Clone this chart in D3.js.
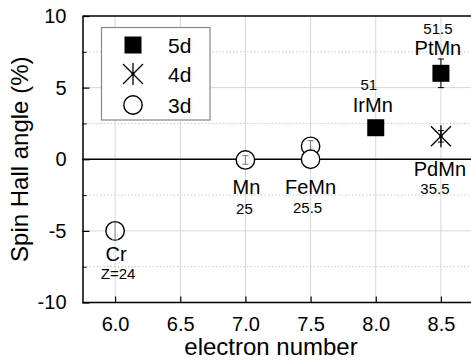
<!DOCTYPE html>
<html><head><meta charset="utf-8">
<script src="https://cdn.jsdelivr.net/npm/d3@7"></script>
<style>
html,body{margin:0;padding:0;background:#fff;}
text{font-family:"Liberation Sans",Arial,Helvetica,sans-serif;fill:#000;}
</style></head>
<body>
<svg id="c" width="471" height="360"></svg>
<script>
// ---- data ----
const xTicks = [6.0, 6.5, 7.0, 7.5, 8.0, 8.5];
const yTicks = [-10, -5, 0, 5, 10];
const yMinorTicks = [-7.5, -2.5, 2.5, 7.5];
const names = ["Cr", "Mn", "FeMn", "FeMn", "IrMn", "PtMn", "PdMn"];
const electrons = [6.0, 7.0, 7.5, 7.5, 8.0, 8.5, 8.5];
const angles = [-5.0, -0.05, 0.9, 0.0, 2.2, 6.0, 1.6];
const errors = [0.6, 0.3, 0.4, 0.0, 0.0, 1.0, 0.4];
const shells = ["3d", "3d", "3d", "3d", "5d", "5d", "4d"];
const labelNames = ["Cr", "Mn", "FeMn", "IrMn", "PtMn", "PdMn"];
const labelZ = ["Z=24", "25", "25.5", "51", "51.5", "35.5"];
const labelX = [6.0, 7.0, 7.5, 8.0, 8.5, 8.5];
const legendItems = ["5d", "4d", "3d"];

// ---- layout ----
const svg = d3.select("#c");
const x = d3.scaleLinear().domain([5.75, 8.75]).range([82.5, 473.5]);
const y = d3.scaleLinear().domain([-10, 10]).range([302.5, 16]);

// grid
const grid = svg.append("g");
grid.selectAll("line.vx").data(xTicks).join("line")
  .attr("x1", d => x(d)).attr("x2", d => x(d))
  .attr("y1", y(10)).attr("y2", y(-10))
  .attr("stroke", "#d6d6d6").attr("stroke-width", 1);
grid.selectAll("line.hy").data([-5, 5]).join("line")
  .attr("x1", x(5.75)).attr("x2", 471)
  .attr("y1", d => y(d)).attr("y2", d => y(d))
  .attr("stroke", "#d6d6d6").attr("stroke-width", 1);
grid.selectAll("line.hm").data(yMinorTicks).join("line")
  .attr("x1", x(5.75)).attr("x2", 471)
  .attr("y1", d => y(d)).attr("y2", d => y(d))
  .attr("stroke", "#c8c8c8").attr("stroke-width", 1).attr("stroke-dasharray", "1.5,2");

// zero line
svg.append("line").attr("x1", x(5.75)).attr("x2", 471)
  .attr("y1", y(0)).attr("y2", y(0)).attr("stroke", "#000").attr("stroke-width", 1.5);
// top border
svg.append("line").attr("x1", x(5.75)).attr("x2", 471)
  .attr("y1", y(10)).attr("y2", y(10)).attr("stroke", "#000").attr("stroke-width", 1.5);

// axes
const xAxis = d3.axisBottom(x).tickValues(xTicks).tickFormat(d3.format(".1f")).tickSizeInner(-6).tickSizeOuter(0).tickPadding(14);
const gx = svg.append("g").attr("transform", `translate(0,${y(-10)})`).call(xAxis);
const yAxis = d3.axisLeft(y).tickValues(yTicks).tickFormat(d => d).tickSizeInner(-7).tickSizeOuter(0).tickPadding(16);
const gy = svg.append("g").attr("transform", `translate(${x(5.75)},0)`).call(yAxis);
svg.append("g").attr("transform", `translate(${x(5.75)},0)`)
  .call(d3.axisLeft(y).tickValues(yMinorTicks).tickFormat("").tickSizeInner(-4).tickSizeOuter(0))
  .select(".domain").remove();
[gx, gy].forEach(g => {
  g.select(".domain").attr("stroke", "#000").attr("stroke-width", 1.5);
  g.selectAll(".tick line").attr("stroke", "#000").attr("stroke-width", 1.2);
  g.selectAll("text").style("font-size", "20px").style("font-family", '"Liberation Sans",Arial,sans-serif').attr("fill", "#000");
});
gx.select(".domain").attr("d", `M${x(5.75)},0H471`);

// axis titles
svg.append("text").attr("x", 271).attr("y", 355).attr("text-anchor", "middle")
  .style("font-size", "24px").text("electron number");
svg.append("text").attr("transform", `translate(28,${y(0)}) rotate(-90)`).attr("text-anchor", "middle")
  .style("font-size", "24px").text("Spin Hall angle (%)");

// marker drawers
function drawMarker(g, shell, cx, cy) {
  if (shell === "5d") {
    g.append("rect").attr("x", cx - 8.5).attr("y", cy - 8.5).attr("width", 17).attr("height", 17).attr("fill", "#000");
  } else if (shell === "4d") {
    const s = 10, v = 11;
    g.append("path").attr("d", `M${cx-s},${cy-s}L${cx+s},${cy+s}M${cx-s},${cy+s}L${cx+s},${cy-s}M${cx},${cy-v}L${cx},${cy+v}`)
      .attr("stroke", "#000").attr("stroke-width", 1.3).attr("fill", "none");
    g.append("circle").attr("cx", cx).attr("cy", cy).attr("r", 1.6).attr("fill", "#000");
  } else {
    g.append("circle").attr("cx", cx).attr("cy", cy).attr("r", 9.2)
      .attr("fill", "#fff").attr("stroke", "#000").attr("stroke-width", 1.4);
  }
}

// points
const pts = names.map((n, i) => ({n, xv: electrons[i], yv: angles[i], e: errors[i], s: shells[i]}));
const pg = svg.append("g");
pts.forEach(p => {
  const cx = x(p.xv), cy = y(p.yv);
  drawMarker(pg, p.s, cx, cy);
  if (p.e > 0) {
    const y1 = y(p.yv + p.e), y2 = y(p.yv - p.e);
    const col = p.s === "3d" ? "#777" : "#000";
    pg.append("path").attr("d", `M${cx},${y1}L${cx},${y2}M${cx-3},${y1}L${cx+3},${y1}M${cx-3},${y2}L${cx+3},${y2}`)
      .attr("stroke", col).attr("stroke-width", 1).attr("fill", "none");
  }
});

// labels
const labelLayout = [
  {nameDy: 30, zDy: 48, ref: -5},
  {nameDy: 35, zDy: 55, ref: 0},
  {nameDy: 35, zDy: 54, ref: 0},
  {nameDy: -16, zDy: -37.5, ref: 2.2},
  {nameDy: -18, zDy: -39.5, ref: 6.0},
  {nameDy: 40, zDy: 58, ref: 1.6}
];
const nameDx = [1, 1, 0, -3, -3, -1];
const zDx = [3, -1, -3, -7, -3, -6];
const lg = svg.append("g");
labelNames.forEach((n, i) => {
  const L = labelLayout[i];
  const cx = x(labelX[i]), cy = y(L.ref);
  lg.append("text").attr("x", cx + nameDx[i]).attr("y", cy + L.nameDy).attr("text-anchor", "middle")
    .style("font-size", "20px").text(n);
  lg.append("text").attr("x", cx + zDx[i]).attr("y", cy + L.zDy).attr("text-anchor", "middle")
    .style("font-size", "15px").text(labelZ[i]);
});

// legend
const leg = svg.append("g");
leg.append("rect").attr("x", 101.5).attr("y", 27.5).attr("width", 108.5).attr("height", 92.5)
  .attr("fill", "#fff").attr("stroke", "#888").attr("stroke-width", 1.2);
const legY = [45, 74, 105];
legendItems.forEach((s, i) => {
  drawMarker(leg, s, 133, legY[i]);
  leg.append("text").attr("x", 168).attr("y", legY[i] + 7.5).style("font-size", "21px").text(s);
});
</script>
</body></html>
